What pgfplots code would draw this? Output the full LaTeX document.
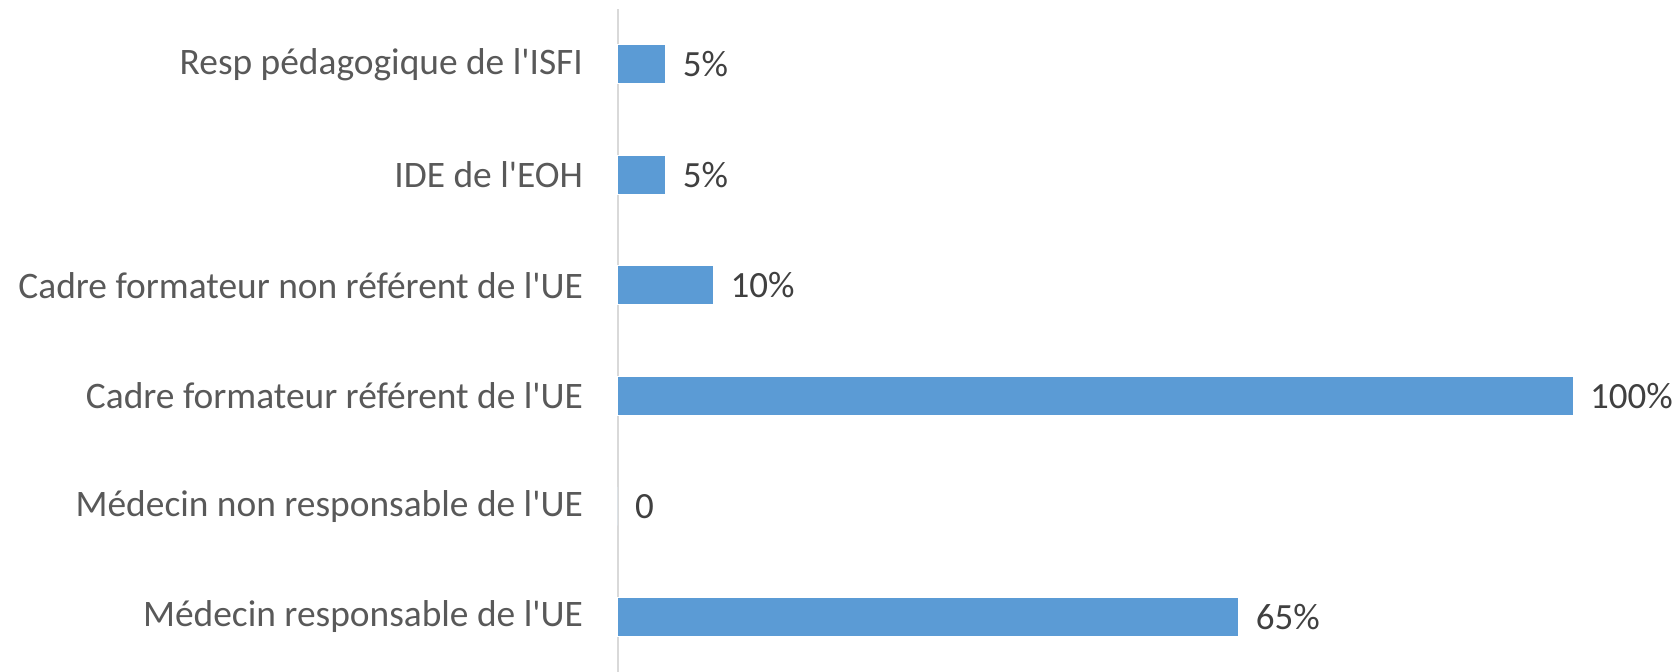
\documentclass[border=0pt]{standalone}
\usepackage{fontspec}
\setmainfont{Carlito}
\usepackage{pgfplots}
\pgfplotsset{compat=1.18}
\definecolor{barblue}{HTML}{5B9BD5}
\definecolor{labgray}{HTML}{595959}
\definecolor{valgray}{HTML}{404040}
\definecolor{axgray}{HTML}{D9D9D9}
\newcommand{\q}{\textquotesingle}
\begin{document}
\begin{tikzpicture}
\useasboundingbox (-309pt,0pt) rectangle (531pt,336pt);
\begin{axis}[
  at={(0pt,0pt)}, anchor=south west,
  scale only axis, width=477.5pt, height=331.5pt,
  xmin=0, xmax=100, ymin=-0.5, ymax=5.5,
  xbar, bar width=19.3pt,
  axis x line=none, axis y line*=left,
  y axis line style={draw=axgray, line width=1.2pt, -},
  ytick={0,1,2,3,4,5},
  yticklabels={M\'edecin responsable de l\q UE, M\'edecin non responsable de l\q UE, Cadre formateur r\'ef\'erent de l\q UE, Cadre formateur non r\'ef\'erent de l\q UE, IDE de l\q EOH, Resp p\'edagogique de l\q ISFI},
  major tick length=0pt,
  yticklabel style={font=\fontsize{18.7}{22}\selectfont, text=labgray, xshift=-14pt},
  clip=false,
  point meta=explicit symbolic,
  nodes near coords,
  nodes near coords style={font=\fontsize{18.5}{22}\selectfont, text=valgray, anchor=west, xshift=5pt},
]
\addplot[fill=barblue, draw=white, line width=0.5pt] coordinates {
  (65,0) [65\%]
  (0,1) [0]
  (100,2) [100\%]
  (10,3) [10\%]
  (5,4) [5\%]
  (5,5) [5\%]
};
\end{axis}
\end{tikzpicture}
\end{document}
